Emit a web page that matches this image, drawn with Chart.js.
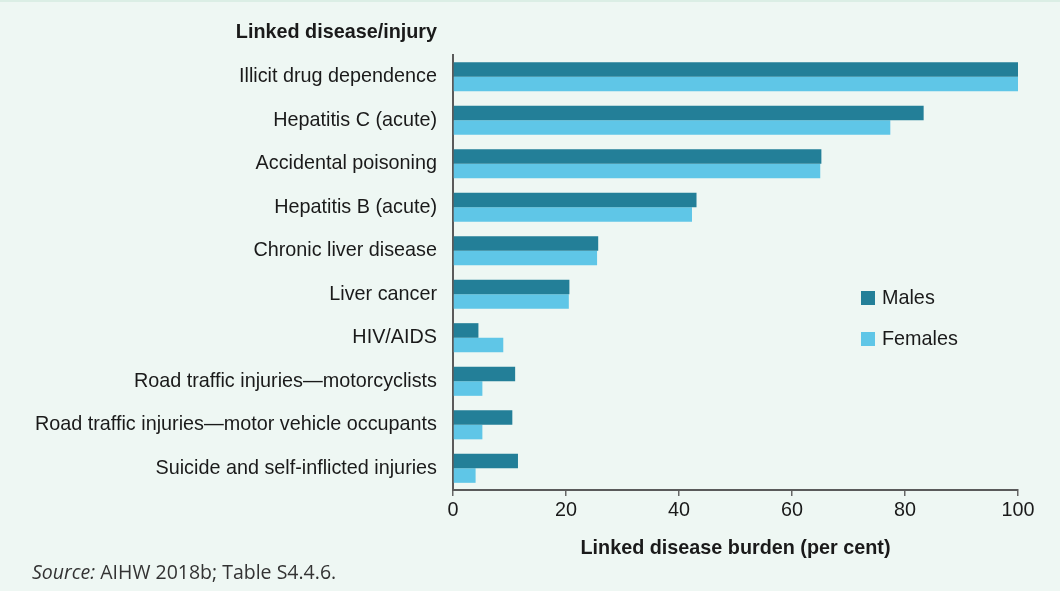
<!DOCTYPE html>
<html>
<head>
<meta charset="utf-8">
<script src="https://cdn.jsdelivr.net/npm/chart.js@4.4.1/dist/chart.umd.min.js"></script>
<style>
    html, body { margin: 0; padding: 0; background: #eef7f3; }
    #wrap {
        position: relative;
        width: 1060px;
        height: 591px;
        background: #eef7f3;
        border-top: 2px solid #dbeee5;
        box-sizing: border-box;
        overflow: hidden;
    }
    #chart { position: absolute; left: 0; top: -2px; }
    #source {
        position: absolute;
        left: 32px;
        top: 556px;
        font-family: "Open Sans", sans-serif;
        font-size: 19.5px;
        color: #333;
        white-space: nowrap;
    }
</style>
</head>
<body>
<div id="wrap">
    <canvas id="chart" width="1060" height="591"></canvas>
    <div id="source"><i>Source:</i> AIHW 2018b; Table S4.4.6.</div>
</div>
<script>
const CATEGORIES = [
    'Illicit drug dependence',
    'Hepatitis C (acute)',
    'Accidental poisoning',
    'Hepatitis B (acute)',
    'Chronic liver disease',
    'Liver cancer',
    'HIV/AIDS',
    'Road traffic injuries\u2014motorcyclists',
    'Road traffic injuries\u2014motor vehicle occupants',
    'Suicide and self-inflicted injuries'
];
const MALES = [100, 83.3, 65.2, 43.1, 25.7, 20.6, 4.5, 11.0, 10.5, 11.5];
const FEMALES = [100, 77.4, 65.0, 42.3, 25.5, 20.5, 8.9, 5.2, 5.2, 4.0];
const X_TICKS = [0, 20, 40, 60, 80, 100];

const C_MALES = '#237f98';
const C_FEMALES = '#5fc6e7';
const FONT = '"Liberation Sans", Arial, sans-serif';
const FSIZE = 19.8;

// titre axe y + légende dessinés à la main (positions libres)
const extras = {
    id: 'extras',
    afterDraw(chart) {
        const ctx = chart.ctx;
        ctx.save();
        ctx.fillStyle = '#1a1a1a';
        ctx.font = 'bold ' + FSIZE + 'px ' + FONT;
        ctx.textAlign = 'right';
        ctx.textBaseline = 'middle';
        ctx.fillText('Linked disease/injury', 437, 33);

        ctx.font = FSIZE + 'px ' + FONT;
        ctx.textAlign = 'left';
        chart.data.datasets.forEach((ds, i) => {
            const y = 298 + i * 41;
            ctx.fillStyle = ds.backgroundColor;
            ctx.fillRect(861, y - 7, 14, 14);
            ctx.fillStyle = '#1a1a1a';
            ctx.fillText(ds.label, 882, y + 1);
        });
        ctx.restore();
    }
};

new Chart(document.getElementById('chart'), {
    type: 'bar',
    data: {
        labels: CATEGORIES,
        datasets: [
            { label: 'Males', data: MALES, backgroundColor: C_MALES },
            { label: 'Females', data: FEMALES, backgroundColor: C_FEMALES }
        ]
    },
    options: {
        indexAxis: 'y',
        responsive: false,
        animation: false,
        layout: { padding: { top: 55, right: 42, left: 0, bottom: 0 } },
        datasets: { bar: { categoryPercentage: 0.67, barPercentage: 1.0 } },
        scales: {
            x: {
                min: 0,
                max: 100,
                afterFit: s => { s.height = 101; },
                afterBuildTicks: s => { s.ticks = X_TICKS.map(v => ({ value: v })); },
                grid: { drawOnChartArea: false, drawTicks: true, tickLength: 6, color: '#666', lineWidth: 1.5 },
                border: { display: true, color: '#5a5a5a', width: 2 },
                ticks: { color: '#1a1a1a', padding: 3, font: { family: FONT, size: FSIZE } },
                title: {
                    display: true,
                    text: 'Linked disease burden (per cent)',
                    color: '#1a1a1a',
                    font: { family: FONT, size: FSIZE, weight: 'bold' },
                    padding: { top: 0, bottom: 31 }
                }
            },
            y: {
                afterFit: s => { s.width = 453; },
                grid: { display: false },
                border: { display: true, color: '#5a5a5a', width: 2 },
                ticks: { color: '#1a1a1a', padding: 8, font: { family: FONT, size: FSIZE } }
            }
        },
        plugins: {
            legend: { display: false },
            tooltip: { enabled: false }
        }
    },
    plugins: [extras]
});
</script>
</body>
</html>
